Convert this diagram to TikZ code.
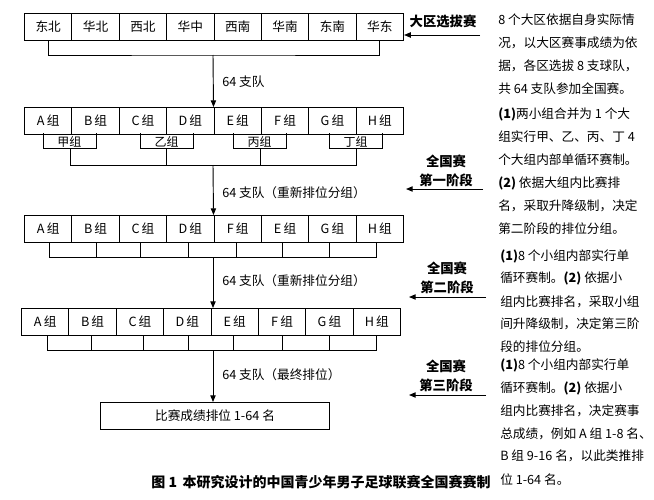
\documentclass[tikz,border=0pt]{standalone}
\usepackage{fontspec}
\setmainfont{Noto Sans CJK SC}
\usetikzlibrary{arrows.meta}
\begin{document}
\begin{tikzpicture}[x=0.75pt,y=-0.75pt,
  cell/.style={draw,line width=0.8pt,minimum width=35.55pt,minimum height=20.25pt,inner sep=0pt,font=\fontsize{9.5}{11}\selectfont,anchor=north west},
  ln/.style={line width=0.7pt},
  arr/.style={ln,-{Triangle[length=5pt,width=4pt]}},
  lab/.style={font=\fontsize{9.5}{11}\selectfont,anchor=west,inner sep=0pt},
  stage/.style={font=\bfseries\fontsize{10}{14}\selectfont,align=center,inner sep=0pt},
  desc/.style={font=\fontsize{9.5}{17.25}\selectfont,align=left,anchor=north west,inner sep=0pt}]
\useasboundingbox (0,0) rectangle (654,500);
% row 1
\foreach \t [count=\i] in {东北,华北,西北,华中,西南,华南,东南,华东}
  \node[cell] (r1b\i) at ({24+(\i-1)*47.375},13) {\t};
\coordinate (j1) at (213,55);
\draw[ln] (r1b1.south) |- (j1) -| (r1b8.south);
% row 2
\foreach \t [count=\i] in {A,B,C,D,E,F,G,H}
  \node[cell] (r2b\i) at ({24+(\i-1)*47.375},107) {\t\,组};
\draw[arr] (j1) -- (r2b5.north west);
\node[lab] (l1) at (222,82) {64 支队};
\foreach \a/\b/\t in {43/96/甲组,140/193/乙组,233/286/丙组,329/382/丁组}
  \draw[ln] (\a,133) -- (\a,148) -- (\b,148) -- (\b,133);
\foreach \a/\b/\t in {43/96/甲组,140/193/乙组,233/286/丙组,329/382/丁组}
  \node[lab,anchor=center,font=\fontsize{9}{10}\selectfont] at ({(\a+\b)/2},142) {\t};
\coordinate (j2) at (213,165);
\draw[ln] (70,148) -- (70,165) -- (356,165) -- (356,148);
\draw[ln] (166,148) -- (166,165) (260,148) -- (260,165);
% row 3
\foreach \t [count=\i] in {A,B,C,D,F,E,G,H}
  \node[cell] (r3b\i) at ({24+(\i-1)*47.375},215) {\t\,组};
\draw[arr] (j2) -- (r3b5.north west);
\node[lab] (l2) at (222,193) {64 支队（重新排位分组）};
\coordinate (j3) at (213,257);
\draw[ln] (49,242) -- (49,257) -- (376,257) -- (376,242);
\foreach \x in {96,140,188,236,282,329} \draw[ln] (\x,257) -- (\x,242);
% row 4
\foreach \t [count=\i] in {A,B,C,D,E,F,G,H}
  \node[cell] (r4b\i) at ({21+(\i-1)*47.375},308) {\t\,组};
\draw[arr] (j3) -- (213,308);
\node[lab] (l3) at (222,281) {64 支队（重新排位分组）};
\coordinate (j4) at (213,350);
\draw[ln] (47,335) -- (47,350) -- (376,350) -- (376,335);
\foreach \x in {91,143,188,233,282,329} \draw[ln] (\x,350) -- (\x,335);
% final
\node[cell,minimum width=171.75pt] (fin) at (100,402) {比赛成绩排位 1-64 名};
\draw[arr] (j4) -- (213,402);
\node[lab] (l4) at (222,375) {64 支队（最终排位）};
% caption
\node[font=\bfseries\fontsize{10.5}{12}\selectfont] (cap) at (321,482) {图 1\, 本研究设计的中国青少年男子足球联赛全国赛赛制};
% right side
\node[stage] (s0) at (443,21) {大区选拔赛};
\coordinate (a0) at (480,35);
\draw[arr] (a0) -- (r1b8.east |- a0);
\node[desc] (d0) at (498,14) {8 个大区依据自身实际情\\况，以大区赛事成绩为依\\据，各区选拔 8 支球队，\\共 64 支队参加全国赛。};
\node[stage] (s1) at (446,171) {全国赛\\第一阶段};
\coordinate (a1) at (483,189);
\coordinate (e1) at (406,189);
\draw[arr] (a1) -- (e1);
\node[desc] (d1) at (498,108) {\textbf{(1)}两小组合并为 1 个大\\组实行甲、乙、丙、丁 4\\个大组内部单循环赛制。\\\textbf{(2)} 依据大组内比赛排\\名，采取升降级制，决定\\第二阶段的排位分组。};
\node[stage] (s2) at (447,278) {全国赛\\第二阶段};
\coordinate (a2) at (486,297);
\coordinate (e2) at (409,297);
\draw[arr] (a2) -- (e2);
\node[desc] (d2) at (500,249) {\textbf{(1)}8 个小组内部实行单\\循环赛制。\textbf{(2)} 依据小\\组内比赛排名，采取小组\\间升降级制，决定第三阶\\段的排位分组。};
\node[stage] (s3) at (446,376) {全国赛\\第三阶段};
\coordinate (a3) at (486,395);
\coordinate (e3) at (409,395);
\draw[arr] (a3) -- (e3);
\node[desc] (d3) at (500,358) {\textbf{(1)}8 个小组内部实行单\\循环赛制。\textbf{(2)} 依据小\\组内比赛排名，决定赛事\\总成绩，例如 A 组 1-8 名、\\B 组 9-16 名，以此类推排\\位 1-64 名。};
\end{tikzpicture}
\end{document}
